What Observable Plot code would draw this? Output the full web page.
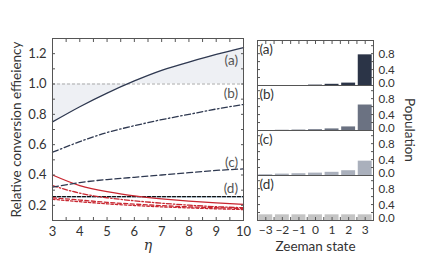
<!DOCTYPE html>
<html><head><meta charset="utf-8">
<script src="https://cdn.jsdelivr.net/npm/d3@7"></script>
<script src="https://cdn.jsdelivr.net/npm/@observablehq/plot@0.6"></script>
<style>
html,body{margin:0;padding:0;background:#fff;}
#wrap{position:relative;width:432px;height:272px;font-family:"Lato","DejaVu Sans",sans-serif;}
#left{position:absolute;left:0;top:0;}
#right{position:absolute;left:250px;top:0;}
</style></head>
<body><div id="wrap"><div id="left"></div><div id="right"></div></div>
<script>
// ---- data ----
const eta = [3, 4, 5, 6, 7, 8, 9, 10];
const curveA = [0.75, 0.85, 0.94, 1.02, 1.09, 1.145, 1.195, 1.24];
const curveB = [0.55, 0.62, 0.68, 0.725, 0.765, 0.80, 0.835, 0.865];
const curveC = [0.32, 0.35, 0.37, 0.385, 0.40, 0.415, 0.43, 0.44];
const curveD = [0.257, 0.257, 0.257, 0.257, 0.257, 0.257, 0.257, 0.257];
const redSolid = [0.40, 0.33, 0.29, 0.262, 0.243, 0.228, 0.216, 0.206];
const redDashDot = [0.33, 0.28, 0.25, 0.23, 0.214, 0.201, 0.191, 0.184];
const redDash1 = [0.25, 0.235, 0.22, 0.208, 0.198, 0.19, 0.184, 0.179];
const redDash2 = [0.24, 0.224, 0.21, 0.199, 0.19, 0.183, 0.177, 0.172];
const panelLabels = ["(a)", "(b)", "(c)", "(d)"];
const panelLabelY = [1.156, 0.934, 0.479, 0.312];
const zeeman = [-3, -2, -1, 0, 1, 2, 3];
const popA = [0.0, 0.0, 0.0, 0.01, 0.03, 0.06, 0.77];
const popB = [0.0, 0.005, 0.01, 0.02, 0.04, 0.09, 0.64];
const popC = [0.02, 0.035, 0.045, 0.06, 0.08, 0.12, 0.36];
const popD = [0.143, 0.143, 0.143, 0.143, 0.143, 0.143, 0.143];
const barColors = ["#2b3447", "#6b7282", "#aab0bc", "#c4c4c4"];

const navy = "#2e3850";
const red = "#c82630";
const frameCol = "#555";
const textCol = "#333";

const mk = (vals) => eta.map((x, i) => ({x, y: vals[i]}));
const lineSeries = [
  {v: redDash1, stroke: red, dash: "4,2.5"},
  {v: redDash2, stroke: red, dash: "2.5,2"},
  {v: redDashDot, stroke: red, dash: "5,2,1.5,2"},
  {v: redSolid, stroke: red, dash: null},
  {v: curveC, stroke: navy, dash: "6,3"},
  {v: curveB, stroke: navy, dash: "6,2.5,1.5,2.5"},
  {v: curveA, stroke: navy, dash: null}
];

const left = Plot.plot({
  width: 260, height: 272,
  marginLeft: 52, marginRight: 17, marginTop: 38, marginBottom: 52,
  style: {fontFamily: "Lato, DejaVu Sans, sans-serif", fontSize: "12px", color: textCol, overflow: "visible"},
  x: {domain: [3, 10]},
  y: {domain: [0.1, 1.3]},
  marks: [
    Plot.areaY(mk(curveA), {x: "x", y1: 1, y2: "y", fill: "#eef0f4", curve: "natural"}),
    Plot.ruleY([1], {stroke: "#aaa", strokeDasharray: "3,2", strokeWidth: 1}),
    Plot.line(mk(curveD), {x: "x", y: "y", stroke: "#a8c4d8", strokeWidth: 1.4}),
    Plot.line(mk(curveD), {x: "x", y: "y", stroke: "#111", strokeWidth: 1.2, strokeDasharray: "3,2"}),
    ...lineSeries.map(s => Plot.line(mk(s.v), {x: "x", y: "y", stroke: s.stroke, strokeWidth: 1.3, strokeDasharray: s.dash, curve: "natural"})),
    Plot.text(panelLabels, {x: 9.8, y: (d, i) => panelLabelY[i], text: d => d, textAnchor: "end", fill: "#555", fontSize: 13.5}),
    Plot.axisX({anchor: "bottom", ticks: eta, tickSize: 0, tickPadding: 6, tickFormat: d3.format("d"), label: null, fontSize: 13}),
    Plot.axisX({anchor: "bottom", ticks: d3.range(3, 10.01, 0.5), tickSize: -3, tickFormat: () => "", label: null, stroke: frameCol}),
    Plot.axisX({anchor: "top", ticks: d3.range(3, 10.01, 0.5), tickSize: -3, tickFormat: () => "", label: null, stroke: frameCol}),
    Plot.axisY({anchor: "left", ticks: [0.2, 0.4, 0.6, 0.8, 1.0, 1.2], tickSize: 0, tickPadding: 6, tickFormat: d3.format(".1f"), label: null, fontSize: 13}),
    Plot.axisY({anchor: "left", ticks: d3.range(0.1, 1.301, 0.1), tickSize: -3, tickFormat: () => "", label: null, stroke: frameCol}),
    Plot.axisY({anchor: "right", ticks: d3.range(0.1, 1.301, 0.1), tickSize: -3, tickFormat: () => "", label: null, stroke: frameCol}),
    Plot.frame({stroke: frameCol}),
    Plot.text(["η"], {frameAnchor: "bottom", dy: 29, text: d => d, fontStyle: "italic", fontSize: 14, fontFamily: "DejaVu Serif, serif", fill: textCol}),
    Plot.text(["Relative conversion effieiency"], {frameAnchor: "left", dx: -36, rotate: -90, textAnchor: "middle", text: d => d, fontSize: 13.5, fill: textCol})
  ]
});
document.getElementById("left").appendChild(left);

const pops = [popA, popB, popC, popD];
const barData = pops.flatMap((p, k) => zeeman.map((s, i) => ({panel: panelLabels[k], k, s, v: p[i]})));

const right = Plot.plot({
  width: 182, height: 272,
  marginLeft: 7, marginRight: 59, marginTop: 38, marginBottom: 51,
  style: {fontFamily: "Lato, DejaVu Sans, sans-serif", fontSize: "12px", color: textCol, overflow: "visible"},
  x: {domain: [-3.5, 3.5]},
  y: {domain: [0, 1.13]},
  fy: {domain: panelLabels, padding: 0, axis: null},
  marks: [
    Plot.rectY(barData, {x1: d => d.s - 0.42, x2: d => d.s + 0.42, y: "v", fy: "panel", fill: d => barColors[d.k]}),
    Plot.text(panelLabels.map(p => ({panel: p})), {fy: "panel", frameAnchor: "top-left", dx: 2, dy: 4, text: "panel", fill: textCol, fontSize: 13.5}),
    Plot.axisX({anchor: "bottom", ticks: zeeman, tickSize: 0, tickPadding: 5, tickFormat: d => d < 0 ? "−" + (-d) : String(d), label: null, fontSize: 12}),
    Plot.axisX({anchor: "bottom", ticks: d3.range(-3.5, 3.51, 0.5), tickSize: -3, tickFormat: () => "", label: null, stroke: frameCol}),
    Plot.axisX({anchor: "top", ticks: d3.range(-3.5, 3.51, 0.5), tickSize: -3, tickFormat: () => "", label: null, stroke: frameCol}),
    Plot.axisY({anchor: "right", ticks: [0, 0.2, 0.4, 0.6, 0.8, 1.0], tickSize: -3, tickFormat: () => "", label: null, stroke: frameCol}),
    Plot.axisY({anchor: "right", ticks: [0.4, 0.8], tickSize: 0, tickPadding: 5, dy: 0.5, tickFormat: d3.format(".1f"), label: null, fontSize: 11.5}),
    Plot.axisY({anchor: "right", ticks: [0], tickSize: 0, tickPadding: 5, dy: -2.5, tickFormat: d3.format(".1f"), label: null, fontSize: 11.5}),
    Plot.axisY({anchor: "left", ticks: [0.2, 0.4, 0.6, 0.8, 1.0], tickSize: -3, tickFormat: () => "", label: null, stroke: frameCol}),
    Plot.frame({stroke: frameCol}),
    Plot.text([{panel: "(d)", t: "Zeeman state"}], {fy: "panel", frameAnchor: "bottom", dy: 30, text: "t", fontSize: 13.5, fill: textCol})
  ]
});
document.getElementById("right").appendChild(right);

// Population label (rotated clockwise), added as real text in right svg
const svg = d3.select(right);
svg.append("text").attr("x", 158).attr("y", 130).attr("transform", "rotate(90,158,130)")
  .attr("text-anchor", "middle").attr("dominant-baseline", "middle")
  .attr("font-size", 13.5).attr("fill", textCol).text("Population");
</script></body></html>
